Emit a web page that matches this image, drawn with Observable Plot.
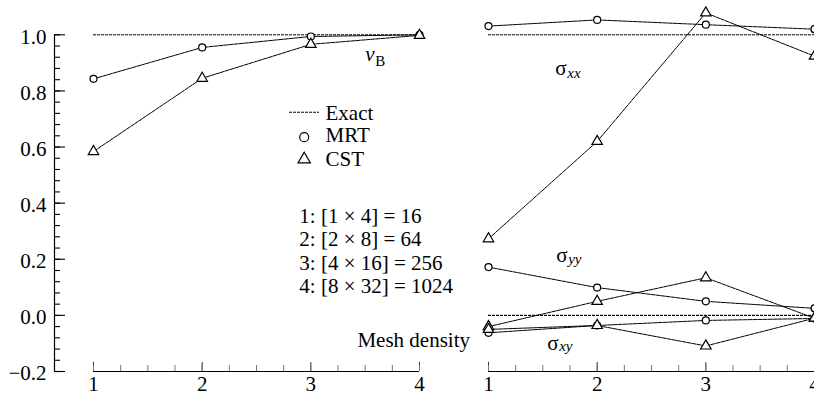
<!DOCTYPE html>
<html>
<head>
<meta charset="utf-8">
<script src="https://cdn.jsdelivr.net/npm/d3@7"></script>
<script src="https://cdn.jsdelivr.net/npm/@observablehq/plot@0.6"></script>
<style>
  html, body { margin: 0; padding: 0; background: #fff; }
  #chart svg, #chart svg text { font-family: "Liberation Serif", serif !important; }
</style>
</head>
<body>
<div id="chart"></div>
<script>
// Mesh refinement levels and their element counts
const meshLevels = [1, 2, 3, 4];
const meshLabels = ["1: [1 × 4] = 16", "2: [2 × 8] = 64", "3: [4 × 16] = 256", "4: [8 × 32] = 1024"];
const methods = ["MRT", "CST"];

// Normalised results (computed / exact) per mesh level
const vbMRT = [0.843, 0.955, 0.994, 1.000];
const vbCST = [0.584, 0.845, 0.966, 0.998];
const sxxMRT = [1.031, 1.053, 1.036, 1.020];
const sxxCST = [0.273, 0.620, 1.078, 0.924];
const syyMRT = [0.172, 0.099, 0.050, 0.025];
const syyCST = [-0.040, 0.050, 0.134, -0.010];
const sxyMRT = [-0.062, -0.036, -0.018, -0.011];
const sxyCST = [-0.050, -0.036, -0.109, -0.010];

// Exact reference values
const exactVB = 1;
const exactSxx = 1;
const exactSyy = 0;
const exactSxy = 0;

const yDomain = [-0.2, 1.0];
const yTicks = [-0.2, 0, 0.2, 0.4, 0.6, 0.8, 1.0];

// Two panels: displacement (left) and stresses (right)
const series = [
  {panel: "disp", quantity: "vB", method: "MRT", values: vbMRT},
  {panel: "disp", quantity: "vB", method: "CST", values: vbCST},
  {panel: "stress", quantity: "sxx", method: "MRT", values: sxxMRT},
  {panel: "stress", quantity: "sxx", method: "CST", values: sxxCST},
  {panel: "stress", quantity: "syy", method: "MRT", values: syyMRT},
  {panel: "stress", quantity: "syy", method: "CST", values: syyCST},
  {panel: "stress", quantity: "sxy", method: "MRT", values: sxyMRT},
  {panel: "stress", quantity: "sxy", method: "CST", values: sxyCST}
];
const rows = series.flatMap(s => s.values.map((v, i) => ({
  panel: s.panel, key: s.quantity + "-" + s.method, method: s.method, mesh: meshLevels[i], value: v
})));
const exact = [
  {panel: "disp", value: exactVB},
  {panel: "stress", value: exactSxx},
  {panel: "stress", value: exactSyy},
  {panel: "stress", value: exactSxy}
];

const yMinor = d3.range(0, 31).map(i => yDomain[0] + i * 0.04);
const xMinor = d3.range(0, 13).map(i => meshLevels[0] + i * 0.25);
const xFirst = meshLevels[0], xLast = meshLevels[meshLevels.length - 1];
const yAxisShift = -39;
const serif = "Liberation Serif";

// Plain text annotation placed in a panel's data space (y is the baseline)
const note = (panel, x, y, text, opts = {}) =>
  Plot.text([text], {
    fx: () => panel, x: () => x, y: () => y, text: d => d,
    textAnchor: "start", lineAnchor: "bottom", fontSize: 21, fontFamily: serif, fill: "black", ...opts
  });

// Symbol with a smaller subscript
const subLabel = (panel, x, y, main, sub, mainStyle, subStyle, dx, dy) => [
  note(panel, x, y, main, {fontStyle: mainStyle}),
  note(panel, x, y, sub, {fontStyle: subStyle, fontSize: 15, dx, dy})
];

const dash = "4,1";
const exactDash = "3,1";

const chart = Plot.plot({
  width: 814,
  height: 396,
  marginTop: 34.3,
  marginBottom: 25,
  marginLeft: 93,
  marginRight: 0,
  style: {fontFamily: serif, fontSize: "21px", color: "black", background: "white", overflow: "visible"},
  fx: {domain: ["disp", "stress"], paddingInner: 0.1747, paddingOuter: 0, axis: null, label: null},
  x: {domain: [xFirst, xLast]},
  y: {domain: yDomain},
  marks: [
    // axes: x baseline in both panels, y axis only on the left panel
    Plot.ruleY([yDomain[0]], {x1: () => xFirst, x2: () => xLast, stroke: "black", strokeWidth: 1.2}),
    Plot.ruleX(["disp"], {fx: d => d, x: () => xFirst, y1: () => yDomain[0], y2: () => yDomain[1], dx: yAxisShift, stroke: "black", strokeWidth: 1.2}),
    Plot.axisY(yTicks, {tickSize: -11, dx: yAxisShift, fill: "none", label: null, strokeWidth: 1.1}),
    Plot.axisY(yMinor, {tickSize: -6, dx: yAxisShift, fill: "none", label: null, strokeWidth: 1.1}),
    Plot.axisY(yTicks, {tickSize: 0, tickPadding: 8, dx: yAxisShift, dy: 2, tickFormat: d3.format(".1f"), label: null, fontSize: 21, fontFamily: serif, fontVariant: "normal"}),
    Plot.axisX(meshLevels, {tickSize: -9, fill: "none", label: null, stroke: "#333"}),
    Plot.axisX(xMinor, {tickSize: -6, fill: "none", label: null, stroke: "#777"}),
    Plot.axisX(meshLevels, {tickSize: 0, tickPadding: 5, tickFormat: d => String(d), label: null, fontSize: 21, fontFamily: serif, fontVariant: "normal"}),

    // exact solutions
    Plot.ruleY(exact, {fx: "panel", y: "value", x1: () => xFirst, x2: () => xLast, stroke: "black", strokeWidth: 1, strokeDasharray: exactDash}),

    // computed results
    Plot.line(rows, {fx: "panel", x: "mesh", y: "value", z: "key", stroke: "black", strokeWidth: 1, strokeDasharray: dash}),
    Plot.dot(rows, {filter: d => d.method === methods[0], fx: "panel", x: "mesh", y: "value", symbol: "circle", r: 3.5, stroke: "black", fill: "white", strokeWidth: 1.2}),
    Plot.dot(rows, {filter: d => d.method === methods[1], fx: "panel", x: "mesh", y: "value", symbol: "triangle", r: 3.9, stroke: "black", fill: "white", strokeWidth: 1.2}),

    // quantity labels
    ...subLabel("disp", 3.50, 0.908, "v", "B", "italic", "normal", 10, 5),
    ...subLabel("stress", 1.614, 0.855, "σ", "xx", "normal", "italic", 12, 3),
    ...subLabel("stress", 1.623, 0.192, "σ", "yy", "normal", "italic", 12, 2),
    ...subLabel("stress", 1.540, -0.125, "σ", "xy", "normal", "italic", 12, 1),

    // legend
    Plot.ruleY([0.724], {fx: () => "disp", x1: () => 2.804, x2: () => 3.080, stroke: "black", strokeWidth: 1, strokeDasharray: exactDash}),
    note("disp", 3.135, 0.698, "Exact"),
    Plot.dot([methods[0]], {fx: () => "disp", x: () => 2.939, y: () => 0.635, symbol: "circle", r: 4.5, stroke: "black", fill: "white", strokeWidth: 1.2}),
    note("disp", 3.135, 0.617, methods[0]),
    Plot.dot([methods[1]], {fx: () => "disp", x: () => 2.939, y: () => 0.556, symbol: "triangle", r: 4.6, stroke: "black", fill: "white", strokeWidth: 1.2}),
    note("disp", 3.135, 0.534, methods[1]),

    // mesh description and x label
    note("disp", 2.894, 0.079, meshLabels.join("\n"), {lineHeight: 1.12}),
    note("disp", 3.429, -0.114, "Mesh density")
  ]
});

document.getElementById("chart").appendChild(chart);
</script>
</body>
</html>
